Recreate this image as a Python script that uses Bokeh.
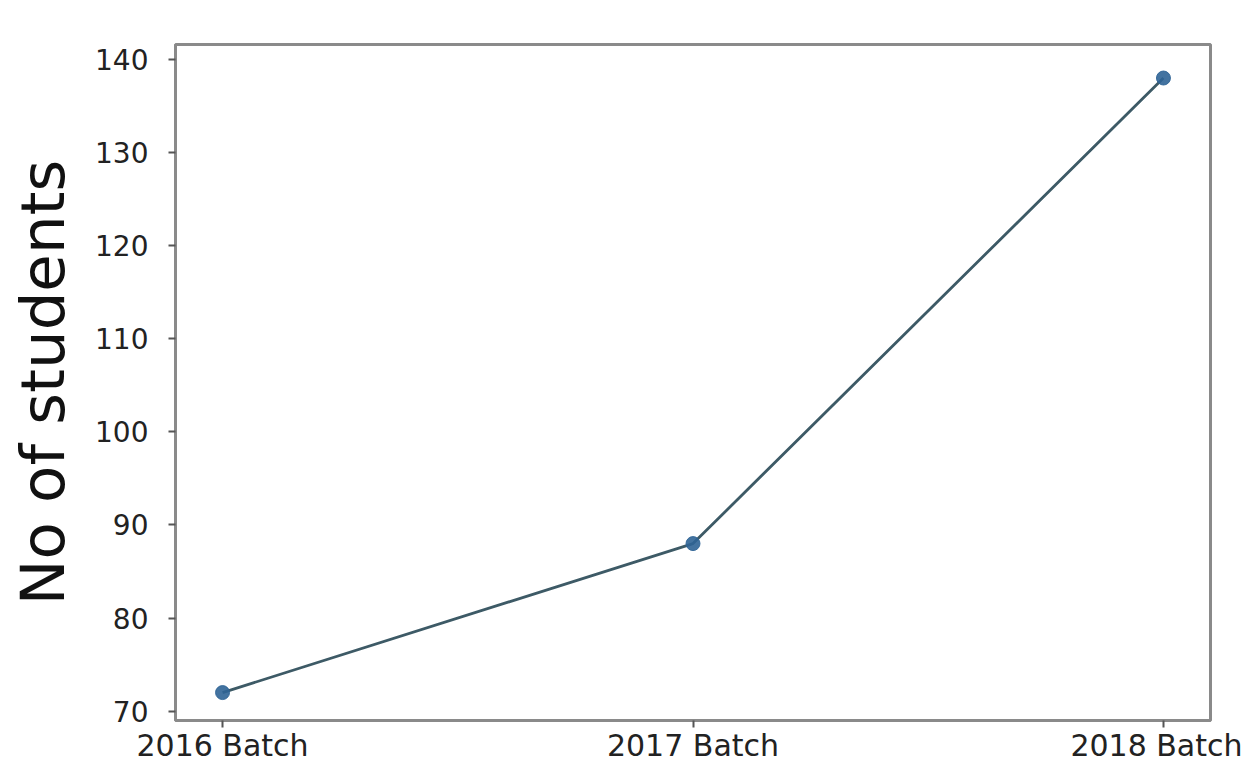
from bokeh.plotting import figure
from bokeh.models import FixedTicker, Range1d
from bokeh.embed import file_html
from bokeh.resources import INLINE

batches = ["2016 Batch", "2017 Batch", "2018 Batch"]
students = [72, 88, 138]
y_ticks = [70, 80, 90, 100, 110, 120, 130, 140]

xs = list(range(len(batches)))

p = figure(width=1242, height=765, output_backend="svg", toolbar_location=None,
           x_range=Range1d(-0.1, 2.1), y_range=Range1d(69.0, 141.6),
           min_border_left=175, min_border_right=32, min_border_top=44, min_border_bottom=44)

p.line(xs, students, line_color="#3d5a66", line_width=2.8)
p.scatter(xs, students, size=14, fill_color="#2f6496", line_color="#2f6496", alpha=0.9)

p.grid.visible = False
p.background_fill_color = "white"
p.border_fill_color = "white"
p.outline_line_color = "#8a8a8a"
p.outline_line_width = 3

p.xaxis.ticker = FixedTicker(ticks=xs)
p.xaxis.major_label_overrides = {i: b for i, b in enumerate(batches)}
p.yaxis.ticker = FixedTicker(ticks=y_ticks)

for ax in (p.xaxis, p.yaxis):
    ax.axis_line_color = "#8a8a8a"
    ax.axis_line_width = 3
    ax.major_tick_line_color = "#555555"
    ax.major_tick_line_width = 2
    ax.major_tick_out = 7
    ax.major_tick_in = 0
    ax.minor_tick_line_color = None
    ax.major_label_text_font = "DejaVu Sans"
    ax.major_label_text_color = "#222222"

p.xaxis.major_label_text_font_size = "30px"
p.yaxis.major_label_text_font_size = "28px"
p.xaxis.major_label_standoff = 0
p.yaxis.major_label_standoff = 20

p.yaxis.axis_label = "No of students"
p.yaxis.axis_label_text_font = "DejaVu Sans"
p.yaxis.axis_label_text_font_size = "61px"
p.yaxis.axis_label_text_font_style = "normal"
p.yaxis.axis_label_text_color = "#111111"
p.yaxis.axis_label_standoff = 14

open("out.html", "w").write(file_html(p, INLINE))
